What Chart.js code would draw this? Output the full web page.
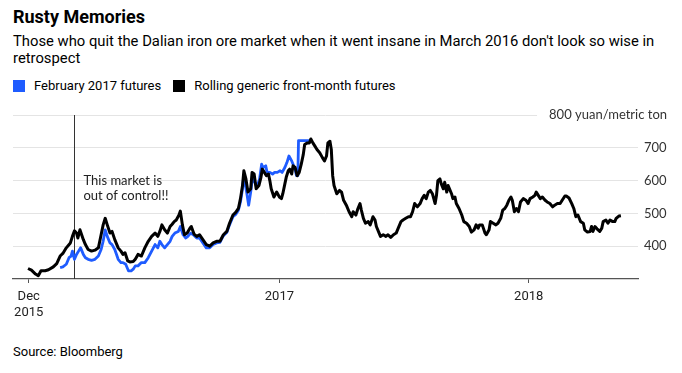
<!DOCTYPE html>
<html>
<head>
<meta charset="utf-8">
<script src="https://cdn.jsdelivr.net/npm/chart.js@4.4.1/dist/chart.umd.min.js"></script>
<style>
  body { margin: 0; background: #fff; font-family: Roboto, sans-serif; color: #000; }
  #page { position: relative; width: 682px; height: 373px; overflow: hidden; }
  h1 { position: absolute; left: 13px; top: 6px; margin: 0; font-size: 18px; font-weight: 700; }
  .sub { position: absolute; left: 13px; top: 33px; width: 668px; font-size: 14.8px; line-height: 17px; }
  .legend { position: absolute; left: 13px; top: 78px; font-size: 13px; display: flex; align-items: center; }
  .legend .item { display: flex; align-items: center; margin-right: 12px; }
  .legend .box { width: 12px; height: 12px; display: inline-block; margin-right: 9px; }
  #wrap { position: absolute; left: 0; top: 100px; width: 682px; height: 230px; }
  .source { position: absolute; left: 13px; top: 344px; font-size: 13px; }
</style>
</head>
<body>
<div id="page">
  <h1>Rusty Memories</h1>
  <div class="sub">Those who quit the Dalian iron ore market when it went insane in March 2016 don't look so wise in retrospect</div>
  <div class="legend">
    <div class="item"><span class="box" style="background:#1f5cff"></span>February 2017 futures</div>
    <div class="item"><span class="box" style="background:#000"></span>Rolling generic front-month futures</div>
  </div>
  <div id="wrap"><canvas id="chart"></canvas></div>
  <div class="source">Source: Bloomberg</div>
</div>
<script>
// Rolling generic front-month futures (yuan/metric ton)
const genericDates = [
  '2015-12-30', '2016-01-04', '2016-01-10', '2016-01-14', '2016-01-18', '2016-01-24', '2016-01-29',
  '2016-02-05', '2016-02-10', '2016-02-15', '2016-02-19', '2016-02-24',
  '2016-03-01', '2016-03-04', '2016-03-07', '2016-03-10', '2016-03-12', '2016-03-15', '2016-03-20', '2016-03-23', '2016-03-27',
  '2016-04-01', '2016-04-06', '2016-04-11', '2016-04-15', '2016-04-18', '2016-04-21', '2016-04-24', '2016-04-28',
  '2016-05-01', '2016-05-05', '2016-05-10', '2016-05-14', '2016-05-17', '2016-05-20', '2016-05-24', '2016-05-27',
  '2016-06-01', '2016-06-04', '2016-06-08', '2016-06-13', '2016-06-18', '2016-06-23', '2016-06-28',
  '2016-07-03', '2016-07-07', '2016-07-10', '2016-07-13', '2016-07-17', '2016-07-21', '2016-07-25', '2016-07-28', '2016-07-31',
  '2016-08-03', '2016-08-07', '2016-08-09', '2016-08-12', '2016-08-15', '2016-08-19', '2016-08-23', '2016-08-25', '2016-08-29',
  '2016-09-02', '2016-09-06', '2016-09-11', '2016-09-16', '2016-09-21', '2016-09-26',
  '2016-10-01', '2016-10-06', '2016-10-11', '2016-10-16', '2016-10-20', '2016-10-25', '2016-10-29',
  '2016-11-02', '2016-11-05', '2016-11-08', '2016-11-10', '2016-11-13', '2016-11-16', '2016-11-20', '2016-11-22', '2016-11-25', '2016-11-28',
  '2016-12-02', '2016-12-05', '2016-12-07', '2016-12-10', '2016-12-13', '2016-12-16', '2016-12-18', '2016-12-20', '2016-12-24', '2016-12-28',
  '2017-01-01', '2017-01-04', '2017-01-06', '2017-01-09', '2017-01-11', '2017-01-14', '2017-01-16', '2017-01-19', '2017-01-21', '2017-01-24', '2017-01-27', '2017-01-30',
  '2017-02-02', '2017-02-05', '2017-02-07', '2017-02-11', '2017-02-14', '2017-02-16', '2017-02-19', '2017-02-22', '2017-02-25',
  '2017-03-01', '2017-03-05', '2017-03-08', '2017-03-11', '2017-03-13', '2017-03-16', '2017-03-18', '2017-03-20', '2017-03-22', '2017-03-26', '2017-03-30',
  '2017-04-02', '2017-04-05', '2017-04-09', '2017-04-13', '2017-04-17', '2017-04-19', '2017-04-23', '2017-04-26', '2017-04-29',
  '2017-05-01', '2017-05-04', '2017-05-07', '2017-05-11', '2017-05-14', '2017-05-18', '2017-05-21', '2017-05-23', '2017-05-27', '2017-05-29',
  '2017-06-02', '2017-06-06', '2017-06-09', '2017-06-13', '2017-06-17', '2017-06-21', '2017-06-24', '2017-06-28',
  '2017-07-01', '2017-07-05', '2017-07-09', '2017-07-12', '2017-07-15', '2017-07-18', '2017-07-22', '2017-07-26', '2017-07-29',
  '2017-08-01', '2017-08-04', '2017-08-07', '2017-08-10', '2017-08-13', '2017-08-17', '2017-08-19', '2017-08-21', '2017-08-24', '2017-08-26', '2017-08-29', '2017-08-31',
  '2017-09-03', '2017-09-05', '2017-09-07', '2017-09-10', '2017-09-12', '2017-09-15', '2017-09-17', '2017-09-21', '2017-09-25', '2017-09-28',
  '2017-10-02', '2017-10-06', '2017-10-09', '2017-10-13', '2017-10-16', '2017-10-19', '2017-10-21', '2017-10-25', '2017-10-29', '2017-10-31',
  '2017-11-04', '2017-11-06', '2017-11-10', '2017-11-14', '2017-11-17', '2017-11-21', '2017-11-24', '2017-11-27', '2017-11-30',
  '2017-12-03', '2017-12-06', '2017-12-08', '2017-12-11', '2017-12-14', '2017-12-17', '2017-12-20', '2017-12-24', '2017-12-28', '2017-12-31',
  '2018-01-03', '2018-01-07', '2018-01-10', '2018-01-12', '2018-01-15', '2018-01-18', '2018-01-21', '2018-01-25', '2018-01-28',
  '2018-02-01', '2018-02-05', '2018-02-08', '2018-02-12', '2018-02-16', '2018-02-19', '2018-02-23', '2018-02-25',
  '2018-03-01', '2018-03-05', '2018-03-08', '2018-03-11', '2018-03-14', '2018-03-18', '2018-03-22', '2018-03-24', '2018-03-28',
  '2018-04-01', '2018-04-03', '2018-04-05', '2018-04-08', '2018-04-11', '2018-04-15', '2018-04-18', '2018-04-20', '2018-04-24', '2018-04-27', '2018-04-30',
  '2018-05-04', '2018-05-07', '2018-05-09', '2018-05-13', '2018-05-16'
];
const genericValues = [
  332, 327, 315, 310, 325, 325, 328,
  337, 347, 370, 378, 395,
  410, 430, 447, 440, 425, 450, 420, 405, 390,
  385, 388, 395, 435, 465, 485, 465, 440,
  445, 420, 395, 385, 375, 380, 355, 352,
  353, 360, 375, 370, 395, 415, 430,
  440, 430, 445, 465, 450, 440, 460, 467, 475,
  480, 495, 507, 465, 435, 440, 455, 460, 437,
  430, 435, 420, 405, 400, 410,
  415, 415, 435, 445, 470, 495, 503,
  515, 545, 585, 630, 605, 565, 575, 625, 620, 575,
  585, 610, 635, 625, 615, 620, 600, 575, 550, 565,
  550, 545, 560, 590, 610, 630, 635, 620, 645, 640, 615, 625,
  650, 680, 710, 715, 715, 727, 715, 705, 695,
  685, 670, 660, 675, 715, 720, 695, 615, 585, 560, 570,
  565, 540, 525, 505, 490, 505, 495, 515, 530,
  510, 485, 470, 475, 465, 490, 480, 460, 440, 430,
  435, 430, 435, 427, 435, 440, 455, 475,
  480, 485, 490, 490, 505, 530, 520, 530, 545,
  555, 545, 565, 570, 560, 530, 555, 600, 605, 590, 575, 595,
  565, 585, 575, 560, 545, 550, 530, 515, 495, 475,
  470, 460, 443, 450, 465, 455, 465, 465, 440, 435,
  450, 475, 470, 465, 470, 485, 510, 515, 525,
  540, 550, 540, 505, 515, 505, 535, 545, 540, 530,
  545, 550, 555, 565, 555, 545, 550, 540, 535,
  530, 520, 525, 530, 530, 540, 553, 553,
  547, 530, 515, 490, 495, 475, 470, 450, 443,
  445, 460, 445, 460, 453, 445, 455, 475, 480, 470, 480,
  475, 475, 485, 492, 493
];

// February 2017 futures contract
const febDates = [
  '2016-02-15', '2016-02-19', '2016-02-24', '2016-02-28',
  '2016-03-02', '2016-03-04', '2016-03-07', '2016-03-10', '2016-03-13', '2016-03-16', '2016-03-20', '2016-03-23', '2016-03-27',
  '2016-04-01', '2016-04-06', '2016-04-11', '2016-04-15', '2016-04-18', '2016-04-21', '2016-04-24', '2016-04-28',
  '2016-05-01', '2016-05-05', '2016-05-10', '2016-05-14', '2016-05-17', '2016-05-21', '2016-05-25', '2016-05-29',
  '2016-06-01', '2016-06-04', '2016-06-08', '2016-06-13', '2016-06-18', '2016-06-23', '2016-06-28',
  '2016-07-03', '2016-07-07', '2016-07-10', '2016-07-13', '2016-07-17', '2016-07-21', '2016-07-25', '2016-07-28',
  '2016-08-01', '2016-08-06', '2016-08-09', '2016-08-13', '2016-08-17', '2016-08-20', '2016-08-24', '2016-08-28',
  '2016-09-02', '2016-09-06', '2016-09-11', '2016-09-16', '2016-09-21', '2016-09-26',
  '2016-10-01', '2016-10-06', '2016-10-11', '2016-10-16', '2016-10-20', '2016-10-25', '2016-10-29',
  '2016-11-02', '2016-11-05', '2016-11-08', '2016-11-10', '2016-11-14', '2016-11-17', '2016-11-20', '2016-11-23', '2016-11-26', '2016-11-29',
  '2016-12-03', '2016-12-06', '2016-12-08', '2016-12-12', '2016-12-14', '2016-12-18', '2016-12-22', '2016-12-25', '2016-12-29',
  '2017-01-02', '2017-01-05', '2017-01-09', '2017-01-12', '2017-01-15', '2017-01-19', '2017-01-21', '2017-01-24', '2017-01-26', '2017-01-28', '2017-01-29',
  '2017-02-05', '2017-02-14'
];
const febValues = [
  335, 337, 345, 365,
  370, 385, 360, 375, 385, 395, 375, 365, 360,
  357, 360, 370, 390, 415, 450, 430, 410,
  405, 390, 360, 350, 350, 345, 325, 325,
  330, 340, 340, 350, 350, 365, 385,
  405, 395, 415, 405, 395, 405, 415, 430,
  440, 445, 460, 435, 425, 430, 440, 435,
  425, 425, 410, 395, 395, 405,
  410, 412, 432, 442, 465, 490, 497,
  510, 535, 575, 615, 565, 525, 565, 615, 595, 580,
  605, 650, 640, 645, 625, 625, 620, 625, 625,
  630, 625, 640, 655, 675, 660, 650, 635, 615, 615, 722,
  722, 722
];

// x ticks
const tickDates = ['2015-12-31', '2017-01-01', '2018-01-01'];
const tickLabels = [['Dec', '2015'], '2017', '2018'];

// y axis
const yMin = 300, yMax = 800, yStep = 50;
const yUnit = 'yuan/metric ton';

// annotation
const markerDate = '2016-03-06';
const noteLines = ['This market is', 'out of control!!'];
const noteValue = 598;

const toPoints = (dates, values) => dates.map((d, i) => ({ x: Date.parse(d), y: values[i] }));

const annotate = {
  id: 'annotate',
  beforeDatasetsDraw(chart) {
    const { ctx, chartArea, scales: { x, y } } = chart;
    const px = Math.round(x.getPixelForValue(Date.parse(markerDate))) + 0.5;
    ctx.save();
    ctx.strokeStyle = '#333';
    ctx.lineWidth = 1;
    ctx.beginPath();
    ctx.moveTo(px, chartArea.top);
    ctx.lineTo(px, chartArea.bottom);
    ctx.stroke();
    ctx.fillStyle = '#222';
    ctx.font = '13px Lato';
    ctx.textBaseline = 'middle';
    const ny = y.getPixelForValue(noteValue);
    noteLines.forEach((t, i) => ctx.fillText(t, px + 9, ny + i * 14.5));
    ctx.restore();
  },
  afterDraw(chart) {
    const { ctx, chartArea, scales: { y } } = chart;
    const py = y.getPixelForValue(yMax);
    const label = yMax + ' ' + yUnit;
    ctx.save();
    ctx.font = '13px Lato';
    const w = ctx.measureText(label).width;
    const right = chartArea.right + 29;
    ctx.fillStyle = '#fff';
    ctx.fillRect(right - w - 12, py - 8, w + 20, 16);
    ctx.fillStyle = '#333';
    ctx.textAlign = 'right';
    ctx.textBaseline = 'middle';
    ctx.fillText(label, right, py);
    ctx.restore();
  }
};

new Chart(document.getElementById('chart'), {
  type: 'line',
  data: {
    datasets: [
      {
        label: 'Rolling generic front-month futures',
        data: toPoints(genericDates, genericValues),
        borderColor: '#000',
        borderWidth: 3,
        pointRadius: 0,
        tension: 0,
        borderJoinStyle: 'round'
      },
      {
        label: 'February 2017 futures',
        data: toPoints(febDates, febValues),
        borderColor: '#1f5cff',
        borderWidth: 2.8,
        pointRadius: 0,
        tension: 0,
        borderJoinStyle: 'round'
      }
    ]
  },
  options: {
    responsive: true,
    maintainAspectRatio: false,
    animation: false,
    layout: { padding: { left: 13, top: 15, right: 0, bottom: 0 } },
    plugins: { legend: { display: false }, tooltip: { enabled: false } },
    scales: {
      x: {
        type: 'linear',
        min: Date.parse('2015-12-08'),
        max: Date.parse('2018-06-10'),
        afterBuildTicks: s => { s.ticks = tickDates.map(d => ({ value: Date.parse(d) })); },
        afterFit: s => { s.height = 51; },
        grid: { drawOnChartArea: false, tickLength: 4, tickColor: '#555' },
        border: { color: '#555', width: 1.3 },
        ticks: {
          autoSkip: false,
          maxRotation: 0,
          padding: 6,
          color: '#222',
          font: { family: 'Roboto', size: 13 },
          callback: v => {
            const i = tickDates.findIndex(d => Date.parse(d) === v);
            return i < 0 ? '' : tickLabels[i];
          }
        }
      },
      y: {
        position: 'right',
        min: yMin,
        max: yMax,
        afterFit: s => { s.width = 44; },
        grid: { color: c => c.tick && c.tick.value === yMin ? 'rgba(0,0,0,0)' : '#e4e4e4', drawTicks: false },
        border: { display: false },
        ticks: {
          stepSize: yStep,
          padding: 6,
          color: '#333',
          font: { family: 'Lato', size: 13 },
          callback: v => (v % 100 === 0 && v > yMin && v < yMax) ? String(v) : ''
        }
      }
    }
  },
  plugins: [annotate]
});
</script>
</body>
</html>
